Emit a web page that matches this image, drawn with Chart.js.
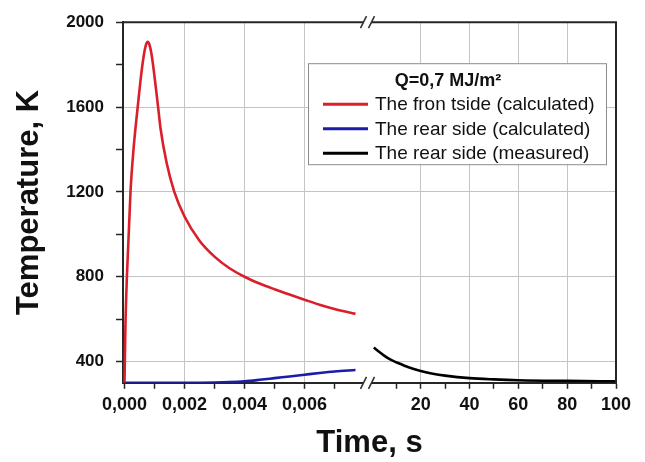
<!DOCTYPE html>
<html><head><meta charset="utf-8">
<script src="https://cdn.jsdelivr.net/npm/chart.js@4.4.0/dist/chart.umd.min.js"></script>
<style>html,body{margin:0;padding:0;background:#fff;}#wrap{position:relative;width:645px;height:462px;}</style>
</head><body><div id="wrap"><canvas id="c" width="645" height="462"></canvas></div>
<script>
// ---- data ----
const frontTime = [0, 0.00003, 0.00008, 0.0002, 0.0003, 0.00044, 0.00055, 0.00065, 0.00072, 0.00077, 0.00083, 0.0009, 0.001, 0.00112, 0.0012, 0.0014, 0.00166, 0.002, 0.0025, 0.003, 0.0035, 0.004, 0.0045, 0.005, 0.0055, 0.006, 0.0065, 0.007, 0.0077];
const frontTemp = [300, 560, 800, 1200, 1400, 1600, 1745, 1850, 1895, 1908, 1895, 1850, 1745, 1600, 1500, 1340, 1200, 1084, 970, 895, 840, 800, 768, 741, 716, 692, 668, 648, 625];
const rearCalcTime = [0, 0.001, 0.002, 0.003, 0.0035, 0.004, 0.0045, 0.005, 0.0055, 0.006, 0.0065, 0.007, 0.0077];
const rearCalcTemp = [300, 300, 300, 301, 303, 307, 314, 322, 330, 338, 346, 353, 360];
const rearMeasTime = [0.8, 2.5, 5, 7.5, 10, 15, 20, 25, 30, 40, 50, 60, 80, 100];
const rearMeasTemp = [466, 450, 428, 410, 397, 373, 356, 343, 334, 322, 316, 312, 309, 307];
const seriesLabels = ['The fron tside (calculated)', 'The rear side (calculated)', 'The rear side (measured)'];
const seriesColors = ['#da1f2a', '#1c1caa', '#000000'];
const legendTitle = 'Q=0,7 MJ/m\u00B2';
const yTicks = [400, 600, 800, 1000, 1200, 1400, 1600, 1800, 2000];
const yTickLabels = ['400', '', '800', '', '1200', '', '1600', '', '2000'];
const shortTicks = [0, 0.001, 0.002, 0.003, 0.004, 0.005, 0.006, 0.007];
const shortTickLabels = ['0,000', '', '0,002', '', '0,004', '', '0,006', ''];
const longTicks = [10, 20, 30, 40, 50, 60, 70, 80, 90, 100];
const longTickLabels = ['', '20', '', '40', '', '60', '', '80', '', '100'];
const xTitle = 'Time, s';
const yTitle = 'Temperature, K';

const pts = (xs, ys) => xs.map((x, i) => ({x: x, y: ys[i]}));
const FONT = '"Liberation Sans", Arial, sans-serif';
const GRID = '#c4c4c4';
const AXIS = '#262626';

function fixedTicks(list) {
  return function (scale) { scale.ticks = list.map(v => ({value: v})); };
}
function labeler(labels) {
  return function (value, index) { return labels[index]; };
}
function gridColor(ctx) {
  return (ctx.tick && ctx.tick.label && ctx.tick.value > 0) ? GRID : 'rgba(0,0,0,0)';
}

const frame = {
  id: 'frame',
  afterDatasetsDraw(chart) {
    const {ctx, chartArea} = chart;
    const bx = chart.scales.x1.right;
    ctx.save();
    ctx.strokeStyle = AXIS;
    ctx.lineWidth = 2;
    ctx.beginPath();
    ctx.moveTo(chartArea.left - 1, chartArea.top);
    ctx.lineTo(chartArea.right + 1, chartArea.top);
    ctx.moveTo(chartArea.right, chartArea.top);
    ctx.lineTo(chartArea.right, chartArea.bottom);
    ctx.stroke();
    [chartArea.top, chartArea.bottom].forEach(y => {
      ctx.fillStyle = '#fff';
      ctx.beginPath();
      ctx.moveTo(bx - 7, y + 6);
      ctx.lineTo(bx - 1, y - 6);
      ctx.lineTo(bx + 7, y - 6);
      ctx.lineTo(bx + 1, y + 6);
      ctx.closePath();
      ctx.fill();
      ctx.strokeStyle = '#333';
      ctx.lineWidth = 1.6;
      ctx.beginPath();
      ctx.moveTo(bx - 7, y + 6); ctx.lineTo(bx - 1, y - 6);
      ctx.moveTo(bx + 1, y + 6); ctx.lineTo(bx + 7, y - 6);
      ctx.stroke();
    });
    ctx.restore();
  }
};

const boxLegend = {
  id: 'boxLegend',
  afterDraw(chart) {
    const {ctx, chartArea} = chart;
    const w = 298, h = 101;
    const x0 = chartArea.right - 10 - w, y0 = chartArea.top + 41;
    ctx.save();
    ctx.fillStyle = '#fff';
    ctx.fillRect(x0, y0, w, h);
    ctx.strokeStyle = '#8c8c8c';
    ctx.lineWidth = 1;
    ctx.strokeRect(x0 + 0.5, y0 + 0.5, w, h);
    ctx.fillStyle = '#111';
    ctx.font = 'bold 18px ' + FONT;
    ctx.textAlign = 'center';
    ctx.textBaseline = 'middle';
    ctx.fillText(legendTitle, x0 + 140, y0 + 18);
    chart.data.datasets.forEach((ds, i) => {
      const yy = y0 + 41 + i * 24.5;
      ctx.strokeStyle = ds.borderColor;
      ctx.lineWidth = 3;
      ctx.beginPath();
      ctx.moveTo(x0 + 15, yy);
      ctx.lineTo(x0 + 60, yy);
      ctx.stroke();
      ctx.fillStyle = '#111';
      ctx.font = '19px ' + FONT;
      ctx.textAlign = 'left';
      ctx.fillText(ds.label, x0 + 67, yy + 1);
    });
    ctx.restore();
  }
};

const xBase = {
  type: 'linear',
  position: 'bottom',
  stack: 'time',
  afterFit(s) { s.height = 42; },
  grid: { color: gridColor, lineWidth: 1, tickColor: AXIS, tickWidth: 1.5, tickLength: 6 },
  border: { color: AXIS, width: 2 },
  ticks: { autoSkip: false, maxRotation: 0, padding: 5, color: '#111', font: { family: FONT, size: 18, weight: 'bold' } }
};

new Chart(document.getElementById('c'), {
  type: 'line',
  data: {
    datasets: [
      { label: seriesLabels[0], data: pts(frontTime, frontTemp), xAxisID: 'x1', borderColor: seriesColors[0], borderWidth: 2.6, pointRadius: 0, cubicInterpolationMode: 'monotone', fill: false },
      { label: seriesLabels[1], data: pts(rearCalcTime, rearCalcTemp), xAxisID: 'x1', borderColor: seriesColors[1], borderWidth: 2.6, pointRadius: 0, cubicInterpolationMode: 'monotone', fill: false },
      { label: seriesLabels[2], data: pts(rearMeasTime, rearMeasTemp), xAxisID: 'x2', borderColor: seriesColors[2], borderWidth: 2.6, pointRadius: 0, cubicInterpolationMode: 'monotone', fill: false }
    ]
  },
  options: {
    responsive: false,
    animation: false,
    events: [],
    layout: { padding: { top: 21, right: 29, bottom: 0, left: 0 } },
    plugins: {
      legend: { display: false },
      tooltip: { enabled: false },
      title: {
        display: true, position: 'bottom', fullSize: false, text: xTitle, color: '#111',
        padding: { top: 0, bottom: 0 },
        font: { family: FONT, size: 31, weight: 'bold', lineHeight: 1.2 }
      }
    },
    scales: {
      x1: Object.assign({}, xBase, {
        min: -0.00005, max: 0.0081, stackWeight: 244.5,
        afterBuildTicks: fixedTicks(shortTicks),
        ticks: Object.assign({}, xBase.ticks, { callback: labeler(shortTickLabels) })
      }),
      x2: Object.assign({}, xBase, {
        min: -1.8, max: 100, stackWeight: 248.5,
        afterBuildTicks: fixedTicks(longTicks),
        ticks: Object.assign({}, xBase.ticks, { callback: labeler(longTickLabels) })
      }),
      y: {
        type: 'linear', position: 'left', min: 300, max: 2000,
        afterFit(s) { s.width = 123; },
        afterBuildTicks: fixedTicks(yTicks),
        grid: { color: gridColor, lineWidth: 1, tickColor: AXIS, tickWidth: 1.5, tickLength: 7 },
        border: { color: AXIS, width: 2 },
        ticks: { autoSkip: false, padding: 12, color: '#111', callback: labeler(yTickLabels), font: { family: FONT, size: 17, weight: 'bold' } },
        title: { display: true, text: yTitle, color: '#111', padding: { top: 11, bottom: 0 }, font: { family: FONT, size: 31, weight: 'bold', lineHeight: 1.2 } }
      }
    }
  },
  plugins: [frame, boxLegend]
});
</script>
</body></html>
